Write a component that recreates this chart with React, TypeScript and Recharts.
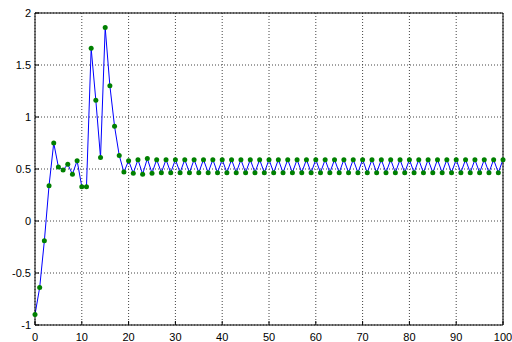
import React from 'react';
import {
    LineChart, Line, XAxis, YAxis, CartesianGrid
} from 'recharts';

// --- values, one per sample n = 0..100 ---
const SAMPLES = [
    -0.90, -0.64, -0.19, 0.34, 0.75, 0.52, 0.49, 0.545, 0.45, 0.58,
    0.33, 0.33, 1.66, 1.16, 0.61, 1.86, 1.30, 0.91, 0.63, 0.47,
    0.58, 0.46, 0.59, 0.45, 0.60, 0.46, 0.59, 0.465, 0.59, 0.465,
    0.59, 0.465, 0.59, 0.465, 0.59, 0.465, 0.59, 0.465, 0.59, 0.465,
    0.59, 0.465, 0.59, 0.465, 0.59, 0.465, 0.59, 0.465, 0.59, 0.465,
    0.59, 0.465, 0.59, 0.465, 0.59, 0.465, 0.59, 0.465, 0.59, 0.465,
    0.59, 0.465, 0.59, 0.465, 0.59, 0.465, 0.59, 0.465, 0.59, 0.465,
    0.59, 0.465, 0.59, 0.465, 0.59, 0.465, 0.59, 0.465, 0.59, 0.465,
    0.59, 0.465, 0.59, 0.465, 0.59, 0.465, 0.59, 0.465, 0.59, 0.465,
    0.59, 0.465, 0.59, 0.465, 0.59, 0.465, 0.59, 0.465, 0.59, 0.465,
    0.59,
];

const X_TICKS = [0, 10, 20, 30, 40, 50, 60, 70, 80, 90, 100];
const Y_TICKS = [-1, -0.5, 0, 0.5, 1, 1.5, 2];

const data = SAMPLES.map((y, n) => ({ n, y }));

const tickStyle = { fill: '#000', fontSize: 11, fontFamily: 'Liberation Sans, Arial, sans-serif' };

export default function App() {
    return (
        <div style={{ position: 'absolute', left: 0, top: 0, background: '#fff' }}>
            <LineChart width={512} height={342} data={data} margin={{ top: 12, right: 0, bottom: 0, left: 0 }}>
                <CartesianGrid stroke="#444" strokeDasharray="1 2" />
                <XAxis
                    dataKey="n" type="number" domain={[0, 100]} ticks={X_TICKS}
                    height={17} tick={tickStyle} tickSize={-4} tickMargin={12}
                    axisLine={{ stroke: '#000' }} tickLine={{ stroke: '#000' }}
                    interval={0}
                />
                <XAxis
                    xAxisId="top" orientation="top" dataKey="n" type="number" domain={[0, 100]}
                    height={1} tick={false} axisLine={{ stroke: '#000' }}
                />
                <YAxis
                    type="number" domain={[-1, 2]} ticks={Y_TICKS}
                    width={35} tick={tickStyle} tickSize={-4} tickMargin={8}
                    axisLine={{ stroke: '#000' }} tickLine={{ stroke: '#000' }}
                    interval={0}
                />
                <YAxis
                    yAxisId="right" orientation="right" type="number" domain={[-1, 2]}
                    width={9} tick={false} axisLine={{ stroke: '#000' }}
                />
                <Line
                    dataKey="y" stroke="#0000ff" strokeWidth={1}
                    dot={{ r: 2.5, fill: '#008000', stroke: 'none' }}
                    isAnimationActive={false}
                />
            </LineChart>
        </div>
    );
}
